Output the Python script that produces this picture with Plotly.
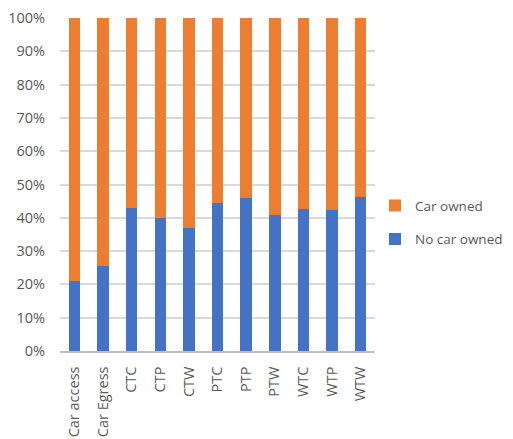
import plotly.graph_objects as go

categories = ["Car access", "Car Egress", "CTC", "CTP", "CTW", "PTC", "PTP",
              "PTW", "WTC", "WTP", "WTW"]
no_car_owned = [21.0, 25.6, 43.0, 40.0, 37.0, 44.3, 46.0, 40.8, 42.7, 42.4, 46.2]
car_owned = [100 - v for v in no_car_owned]

tick_vals = [0, 10, 20, 30, 40, 50, 60, 70, 80, 90, 100]
tick_text = [f"{v}%" for v in tick_vals]

font_family = "Open Sans, Liberation Sans, sans-serif"
text_grey = "#595959"

fig = go.Figure()
fig.add_trace(go.Bar(x=categories, y=no_car_owned, name="No car owned",
                     legendgroup="a", legendrank=2,
                     marker=dict(color="#4472C4", line=dict(width=0))))
fig.add_trace(go.Bar(x=categories, y=car_owned, name="Car owned",
                     legendgroup="b", legendrank=1,
                     marker=dict(color="#ED7D31", line=dict(width=0))))

fig.update_layout(
    width=513, height=439,
    barmode="stack", bargap=0.6,
    plot_bgcolor="white", paper_bgcolor="white",
    margin=dict(l=60, r=138, t=18, b=88, autoexpand=False),
    font=dict(family=font_family, size=14.5, color=text_grey),
    legend=dict(x=1.0, y=0.385, xanchor="left", yanchor="middle",
                traceorder="grouped", font=dict(size=13.5, color=text_grey),
                itemwidth=30, tracegroupgap=13,
                bgcolor="rgba(0,0,0,0)"),
    showlegend=True,
)
fig.update_xaxes(tickangle=-90, showline=True, linecolor="#BFBFBF", linewidth=1.5,
                 ticks="", showgrid=False, ticklabelstandoff=8, automargin=False,
                 tickfont=dict(size=14.5, color=text_grey))
fig.update_yaxes(range=[0, 100], tickvals=tick_vals, ticktext=tick_text,
                 showgrid=True, gridcolor="#D9D9D9", gridwidth=1.5,
                 zeroline=False, showline=False, ticks="", ticklabelstandoff=14,
                 automargin=False,
                 tickfont=dict(size=14.5, color=text_grey))

fig.write_html("out.html")
